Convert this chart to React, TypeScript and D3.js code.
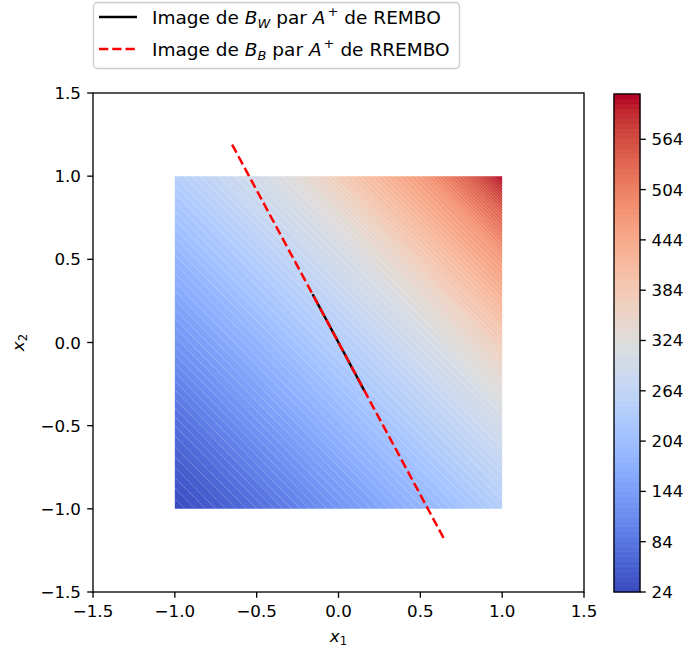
import React from "react";
import * as d3 from "d3";

// ---- data ----
const xTicks = [-1.5, -1.0, -0.5, 0.0, 0.5, 1.0, 1.5];
const yTicks = [-1.5, -1.0, -0.5, 0.0, 0.5, 1.0, 1.5];
const cbTicks = [24, 84, 144, 204, 264, 324, 384, 444, 504, 564];
const levelMin = 24;
const levelMax = 618;
const levelStep = 6;
// objective profile along s = x1 + x2
const profileS = [-2, -1.5, -1, -0.5, 0, 0.5, 0.75, 1, 1.5, 1.75, 2];
const profileV = [24, 72, 128, 183, 240, 298, 330, 378, 468, 535, 617];
// lines
const lineBW = [[-0.158, 0.29], [0.158, -0.29]];
const lineBB = [[-0.65, 1.19], [0.65, -1.19]];
// matplotlib coolwarm (Moreland) table
const cwStops = [
  [59,76,192],[68,90,204],[77,104,215],[87,117,225],[98,130,234],[108,142,241],[119,154,247],[130,165,251],
  [141,176,254],[152,185,255],[163,194,255],[174,201,253],[184,208,249],[194,213,244],[204,217,238],[213,219,230],
  [221,221,221],[229,216,209],[236,211,197],[241,204,184],[245,196,172],[247,187,160],[247,177,148],[247,166,135],
  [244,154,123],[241,141,111],[236,127,99],[229,112,88],[222,96,77],[213,80,66],[203,62,56],[192,40,47],[180,4,38]
];

const W = 689, H = 653;
const FONT = "DejaVu Sans";
const FS = 16.7;
const FSL = 18.5;

export default function App() {
  const x = d3.scaleLinear().domain([-1.5, 1.5]).range([93, 584]);
  const y = d3.scaleLinear().domain([-1.5, 1.5]).range([592, 93]);
  const levels = d3.range(levelMin, levelMax + 0.001, levelStep);
  const mids = levels.slice(0, -1).map((l, i) => (l + levels[i + 1]) / 2);
  const cmap = d3.scaleLinear<string>()
    .domain(cwStops.map((_, i) => i / (cwStops.length - 1)))
    .range(cwStops.map(c => `rgb(${c[0]},${c[1]},${c[2]})`))
    .interpolate(d3.interpolateRgb);
  const norm = d3.scaleLinear().domain([mids[0], mids[mids.length - 1]]).range([0, 1]).clamp(true);
  const color = (v: number) => cmap(norm(v));

  const prof = d3.scaleLinear().domain(profileS).range(profileV);
  const N = 161;
  const values: number[] = new Array(N * N);
  for (let j = 0; j < N; j++) {
    const x2 = -1 + (2 * j) / (N - 1);
    for (let i = 0; i < N; i++) {
      const x1 = -1 + (2 * i) / (N - 1);
      values[j * N + i] = prof(x1 + x2);
    }
  }
  const contours = d3.contours().size([N, N]).thresholds(levels)(values);
  const g2d = (g: number) => -1 + ((g - 0.5) * 2) / (N - 1);
  const proj = d3.geoTransform({
    point(px: number, py: number) {
      this.stream.point(x(g2d(px)), y(g2d(py)));
    },
  });
  const path = d3.geoPath(proj);
  const bands = mids.map((m, k) => {
    const a = path(contours[k] as any) || "";
    const b = k + 1 < contours.length ? path(contours[k + 1] as any) || "" : "";
    return { d: a + b, fill: color(m) };
  });

  const line = d3.line<number[]>().x(d => x(d[0])).y(d => y(d[1]));

  // colorbar
  const cbX0 = 614, cbX1 = 640;
  const cy = d3.scaleLinear().domain([levelMin, levelMax]).range([592, 94]);

  const tickLen = 5.8;
  const lw = 1.33;

  const legendText = (sub: string, name: string, yy: number) => (
    <text x={152} y={yy} fontSize={FSL}>
      <tspan>Image de </tspan>
      <tspan fontStyle="italic">B</tspan>
      <tspan fontStyle="italic" fontSize={FSL * 0.7} dy={3.5}>{sub}</tspan>
      <tspan dy={-3.5}> par </tspan>
      <tspan fontStyle="italic">A</tspan>
      <tspan fontSize={FSL * 0.7} dy={-8} dx={2}>+</tspan>
      <tspan dy={8} dx={6}>de {name}</tspan>
    </text>
  );

  return (
    <svg width={W} height={H} style={{ display: "block", position: "absolute", left: 0, top: 0 }} fontFamily={FONT}>
      <rect width={W} height={H} fill="white" />
      <defs>
        <clipPath id="sq">
          <rect x={x(-1)} y={y(1)} width={x(1) - x(-1)} height={y(-1) - y(1)} />
        </clipPath>
        <clipPath id="ax">
          <rect x={x(-1.5)} y={y(1.5)} width={x(1.5) - x(-1.5)} height={y(-1.5) - y(1.5)} />
        </clipPath>
      </defs>
      <g clipPath="url(#sq)">
        {bands.map((b, i) => (
          <path key={i} d={b.d} fill={b.fill} fillRule="evenodd" stroke="none" />
        ))}
      </g>
      <g clipPath="url(#ax)">
        <path d={line(lineBW) || ""} stroke="black" strokeWidth={2.5} fill="none" />
        <path d={line(lineBB) || ""} stroke="#ff0000" strokeWidth={2.5} fill="none" strokeDasharray="9.25 4" />
      </g>
      {/* axes frame */}
      <rect x={x(-1.5)} y={y(1.5)} width={x(1.5) - x(-1.5)} height={y(-1.5) - y(1.5)} fill="none" stroke="black" strokeWidth={lw} />
      {xTicks.map(t => (
        <g key={"x" + t}>
          <line x1={x(t)} x2={x(t)} y1={592} y2={592 + tickLen} stroke="black" strokeWidth={lw} />
          <text x={x(t)} y={617} fontSize={FS} textAnchor="middle">{(t < 0 ? "\u2212" : "") + Math.abs(t).toFixed(1)}</text>
        </g>
      ))}
      {yTicks.map(t => (
        <g key={"y" + t}>
          <line x1={93 - tickLen} x2={93} y1={y(t)} y2={y(t)} stroke="black" strokeWidth={lw} />
          <text x={81} y={y(t) + 6} fontSize={FS} textAnchor="end">{(t < 0 ? "\u2212" : "") + Math.abs(t).toFixed(1)}</text>
        </g>
      ))}
      {/* axis labels */}
      <text x={x(0)} y={642} fontSize={FS} textAnchor="middle">
        <tspan fontStyle="italic">x</tspan>
        <tspan fontSize={FS * 0.7} dy={3}>1</tspan>
      </text>
      <text transform={`translate(24,${y(0)}) rotate(-90)`} fontSize={FS} textAnchor="middle">
        <tspan fontStyle="italic">x</tspan>
        <tspan fontSize={FS * 0.7} dy={3}>2</tspan>
      </text>
      {/* colorbar */}
      {mids.map((m, k) => (
        <rect key={"cb" + k} x={cbX0} width={cbX1 - cbX0} y={cy(levels[k + 1])} height={cy(levels[k]) - cy(levels[k + 1])} fill={color(m)} stroke={color(m)} strokeWidth={0.6} />
      ))}
      <rect x={cbX0} y={cy(levelMax)} width={cbX1 - cbX0} height={cy(levelMin) - cy(levelMax)} fill="none" stroke="black" strokeWidth={lw} />
      {cbTicks.map(t => (
        <g key={"c" + t}>
          <line x1={cbX1} x2={cbX1 + tickLen} y1={cy(t)} y2={cy(t)} stroke="black" strokeWidth={lw} />
          <text x={cbX1 + tickLen + 5.8} y={cy(t) + 6} fontSize={FS}>{t}</text>
        </g>
      ))}
      {/* legend */}
      <rect x={93.5} y={2.5} width={366} height={66} rx={4} fill="white" fillOpacity={0.8} stroke="#cccccc" strokeWidth={1.33} />
      <line x1={99} x2={137} y1={17} y2={17} stroke="black" strokeWidth={2.5} />
      <line x1={99} x2={137} y1={49} y2={49} stroke="#ff0000" strokeWidth={2.5} strokeDasharray="9.25 4" />
      {legendText("W", "REMBO", 24)}
      {legendText("B", "RREMBO", 56)}
    </svg>
  );
}
